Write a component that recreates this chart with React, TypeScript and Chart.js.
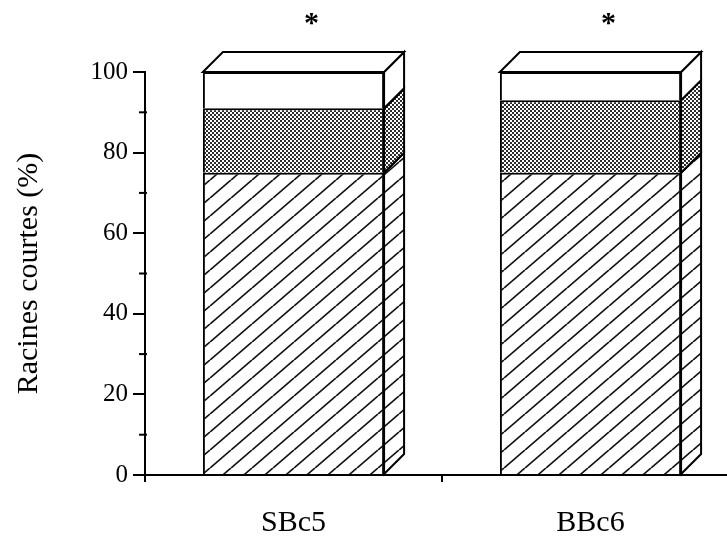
import React, { useEffect, useRef } from 'react';
import { Chart, registerables } from 'chart.js';

Chart.register(...registerables);

const categories = ['SBc5', 'BBc6'];
const hatchedValues = [75, 75];
const dottedValues = [16, 18];
const whiteValues = [9, 7];
const significance = ['*', '*'];
const yMin = 0;
const yMax = 100;
const yStep = 10;
const yLabelEvery = 20;
const yTitle = 'Racines courtes (%)';

const FONT = '"Liberation Serif", "Times New Roman", serif';
const DEPTH = 20;

function makeHatch(): CanvasPattern {
  const w = 21;
  const h = 18;
  const c = document.createElement('canvas');
  c.width = w;
  c.height = h;
  const g = c.getContext('2d')!;
  g.fillStyle = '#fff';
  g.fillRect(0, 0, w, h);
  g.strokeStyle = '#111';
  g.lineWidth = 1.7;
  for (const off of [-w, 0, w]) {
    g.beginPath();
    g.moveTo(off, h);
    g.lineTo(off + w, 0);
    g.stroke();
  }
  return g.createPattern(c, 'repeat')!;
}

function makeDots(): CanvasPattern {
  const c = document.createElement('canvas');
  c.width = 4;
  c.height = 4;
  const g = c.getContext('2d')!;
  g.fillStyle = '#fff';
  g.fillRect(0, 0, 4, 4);
  g.fillStyle = '#2e2e2e';
  g.fillRect(0, 0, 2, 2);
  g.fillRect(2, 2, 2, 2);
  return g.createPattern(c, 'repeat')!;
}

const threeDPlugin = {
  id: 'threeD',
  afterDatasetsDraw(chart: any) {
    const ctx: CanvasRenderingContext2D = chart.ctx;
    const n = chart.data.labels.length;
    const nd = chart.data.datasets.length;
    ctx.save();
    ctx.lineWidth = 2;
    ctx.strokeStyle = '#000';
    ctx.lineJoin = 'miter';
    for (let i = 0; i < n; i++) {
      let topEl: any = null;
      for (let d = 0; d < nd; d++) {
        const el: any = chart.getDatasetMeta(d).data[i];
        const { x, y, base, width } = el.getProps(['x', 'y', 'base', 'width'], true);
        const R = x + width / 2;
        ctx.beginPath();
        ctx.moveTo(R, base);
        ctx.lineTo(R + DEPTH, base - DEPTH);
        ctx.lineTo(R + DEPTH, y - DEPTH);
        ctx.lineTo(R, y);
        ctx.closePath();
        ctx.fillStyle = chart.data.datasets[d].backgroundColor;
        ctx.fill();
        ctx.stroke();
        topEl = { x, y, width };
      }
      if (topEl) {
        const L = topEl.x - topEl.width / 2;
        const R = topEl.x + topEl.width / 2;
        const y = topEl.y;
        ctx.beginPath();
        ctx.moveTo(L, y);
        ctx.lineTo(L + DEPTH, y - DEPTH);
        ctx.lineTo(R + DEPTH, y - DEPTH);
        ctx.lineTo(R, y);
        ctx.closePath();
        ctx.fillStyle = '#fff';
        ctx.fill();
        ctx.stroke();
        // significance mark
        ctx.fillStyle = '#000';
        ctx.font = `bold 30px ${FONT}`;
        ctx.textAlign = 'center';
        ctx.textBaseline = 'alphabetic';
        ctx.fillText(significance[i], topEl.x + 18, chart.chartArea.top - 40);
      }
    }
    // minor ticks on y axis
    const ys = chart.scales.y;
    ctx.lineWidth = 2;
    for (let v = yMin; v <= yMax; v += yStep) {
      if (v % yLabelEvery === 0) continue;
      const py = ys.getPixelForValue(v);
      ctx.beginPath();
      ctx.moveTo(ys.right - 6, py);
      ctx.lineTo(ys.right + 2, py);
      ctx.stroke();
    }
    ctx.restore();
  },
};

export default function App() {
  const ref = useRef<HTMLCanvasElement | null>(null);
  useEffect(() => {
    if (!ref.current) return;
    const hatch = makeHatch();
    const dots = makeDots();
    const chart = new Chart(ref.current, {
      type: 'bar',
      data: {
        labels: categories,
        datasets: [
          { label: 'a', data: hatchedValues, backgroundColor: hatch as any, borderColor: '#000', borderWidth: 2 },
          { label: 'b', data: dottedValues, backgroundColor: dots as any, borderColor: '#000', borderWidth: 2 },
          { label: 'c', data: whiteValues, backgroundColor: '#fff', borderColor: '#000', borderWidth: 2 },
        ],
      },
      options: {
        animation: false,
        responsive: false,
        layout: { padding: { top: 72, left: 0, right: 0, bottom: 0 } },
        plugins: { legend: { display: false }, tooltip: { enabled: false } },
        datasets: { bar: { categoryPercentage: 1, barPercentage: 0.61 } } as any,
        scales: {
          x: {
            stacked: true,
            grid: { drawOnChartArea: false, tickLength: 7, color: '#000', lineWidth: 2 },
            border: { color: '#000', width: 2 },
            ticks: { color: '#000', font: { family: FONT, size: 30 }, padding: 23 },
            afterFit: (s: any) => {
              s.height = 64;
            },
          },
          y: {
            stacked: true,
            min: yMin,
            max: yMax,
            ticks: {
              stepSize: yStep,
              autoSkip: false,
              callback: (v: any) => (Number(v) % yLabelEvery === 0 ? String(v) : ''),
              color: '#000',
              font: { family: FONT, size: 25 },
              padding: 5,
            },
            grid: {
              drawOnChartArea: false,
              tickLength: 12,
              lineWidth: 2,
              color: (c: any) => (c.tick && c.tick.value % yLabelEvery === 0 ? '#000' : 'rgba(0,0,0,0)'),
            },
            border: { color: '#000', width: 2 },
            title: {
              display: true,
              text: yTitle,
              color: '#000',
              font: { family: FONT, size: 30 },
              padding: { top: 11, bottom: 0 },
            },
            afterFit: (s: any) => {
              s.width = 145;
            },
          },
        },
      },
      plugins: [threeDPlugin],
    });
    return () => chart.destroy();
  }, []);
  return (
    <div style={{ position: 'fixed', left: 0, top: 0, width: 727, height: 539, overflow: 'hidden', background: '#fff' }}>
      <canvas ref={ref} width={739} height={539} style={{ display: 'block', width: 739, height: 539 }} />
    </div>
  );
}
